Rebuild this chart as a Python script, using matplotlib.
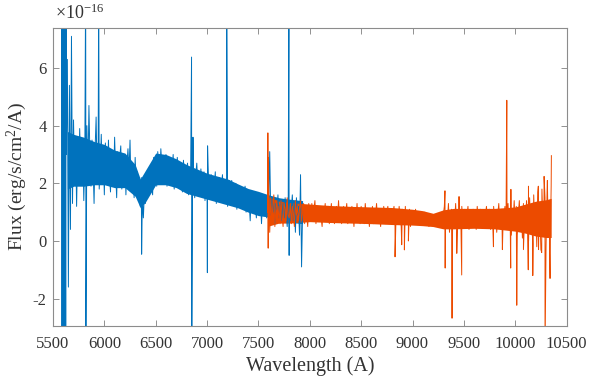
import numpy as np
import matplotlib
matplotlib.use("Agg")
import matplotlib.pyplot as plt

plt.rcParams['font.family'] = ['Liberation Serif', 'DejaVu Serif']
plt.rcParams['mathtext.fontset'] = 'custom'
plt.rcParams['mathtext.rm'] = 'Liberation Serif'
plt.rcParams['mathtext.it'] = 'Liberation Serif:italic'
plt.rcParams['axes.unicode_minus'] = False
plt.rcParams['path.simplify'] = False

# flux values are in units of 1e-16 erg/s/cm^2/A
# blue arm: sampled every 10 A from 5640 A
blue_start = 5640
blue_step = 10
blue_flux = [
    6.3, -1.6, 5.4, 0.4, 7.1, 1.3, 4.2, 2.2, 3.6, 1.2,
    3.3, 2.2, 3.9, 2.5, 2.1, 3.4, 1.4, 3.0, 2.4, 4.0,
    2.3, 4.7, 2.9, 1.9, 3.5, 2.6, 1.3, 3.2, 4.3, 2.2,
    3.1, 1.8, 2.5, 3.7, 2.2, 3.0, 1.6, 3.4, 2.6, 2.1,
    3.5, 2.3, 1.7, 3.0, 2.8, 2.0, 3.6, 2.4, 1.5, 3.1,
    2.1, 2.9, 3.3, 1.8, 2.6, 2.2, 3.0, 1.6, 2.7, 3.2,
    2.4, 3.5, 1.9, 2.7, 2.2, 1.5, 2.9, 2.0, 2.4, 1.6,
    1.9, 1.2, 2.2, 1.5, 0.8, 1.7, 1.3, 2.0, 1.6, 2.3,
    1.8, 2.6, 2.1, 1.6, 2.9, 2.3, 2.7, 1.9, 3.1, 2.5,
    2.2, 3.2, 2.6, 2.0, 2.9, 2.4, 3.0, 1.9, 2.7, 2.3,
    2.8, 2.0, 2.5, 3.0, 1.8, 2.6, 2.2, 2.9, 2.4, 1.9,
    2.6, 2.1, 1.7, 2.8, 2.3, 1.9, 2.5, 2.7, 1.6, 2.2,
    2.4, 1.8, 2.6, 2.0, 1.5, 2.3, 2.7, 1.9, 2.2, 1.6,
    2.5, 1.7, 2.1, 2.4, 1.4, 2.2, 1.9, 2.6, 1.6, 2.1,
    2.3, 1.5, 2.0, 1.8, 2.4, 1.3, 2.1, 1.7, 2.2, 1.5,
    1.9, 2.3, 1.4, 2.0, 1.6, 2.2, 1.2, 1.9, 2.1, 1.5,
    2.1, 1.3, 1.8, 1.5, 2.0, 1.1, 1.7, 1.9, 1.4, 1.6,
    1.8, 1.2, 1.6, 1.9, 1.0, 1.5, 1.7, 1.3, 0.7, 1.6,
    1.5, 1.1, 1.7, 1.2, 0.8, 1.6, 1.4, 1.0, 1.5, 0.6,
    1.4, 1.0, 1.6, 1.2, 0.8, 1.5, 1.3, 3.1, 0.9, 1.5,
    1.0, 1.5, 0.6, 1.3, 1.1, 1.6, 0.8, 1.2, 1.4, 0.7,
    1.3, 0.8, 1.5, 1.0, 0.5, 1.2, 1.4, 0.7, 1.1, 1.6,
    0.7, 1.3, 0.3, 1.5, 0.9, 1.2, 0.2, 2.3, -0.9, 1.0,
]
# saturated blue edge and single-pixel features
blue_spike_wave = [5585, 5588, 5591, 5594, 5597, 5600, 5603, 5606, 5609, 5612,
                   5615, 5618, 5621, 5624, 5627, 5630,
                   5818, 5820, 5945, 6363, 6849, 6851, 6863, 7003, 7005,
                   7191, 7797, 7799]
blue_spike_flux = [9.0, -4.0, 9.0, -4.0, 9.0, -4.0, 9.0, -4.0, 9.0, -4.0,
                   9.0, -4.0, 9.0, -4.0, 9.0, 3.0,
                   9.0, -4.0, 9.0, -0.46, 6.38, -4.0, 3.6, -1.1, 3.3,
                   9.0, 9.0, -0.5]
# dense core of the blue noise band
blue_core_wave = [5640, 5700, 5800, 5900, 6000, 6100, 6200, 6300, 6350, 6400,
                  6500, 6600, 6700, 6800, 6900, 7000, 7100, 7200, 7300, 7400,
                  7500, 7600, 7700, 7800, 7930]
blue_core_lo = [1.8, 1.9, 1.9, 1.95, 1.95, 1.85, 1.85, 1.55, 1.15, 1.35,
                1.95, 1.95, 1.85, 1.65, 1.55, 1.45, 1.35, 1.25, 1.15, 1.0,
                0.88, 0.83, 0.75, 0.65, 0.6]
blue_core_hi = [3.8, 3.7, 3.6, 3.45, 3.35, 3.15, 3.05, 2.65, 2.15, 2.45,
                3.05, 3.0, 2.85, 2.65, 2.5, 2.35, 2.25, 2.15, 1.98, 1.82,
                1.72, 1.6, 1.5, 1.45, 1.4]

# red arm: sampled every 10 A from 7600 A
red_start = 7600
red_step = 10
red_flux = [
    1.9, 0.3, 1.5, 0.6, 1.2, 1.6, 0.5, 1.1, 1.4, 0.7,
    1.2, 0.6, 1.4, 0.9, 0.5, 1.3, 1.1, 0.7, 1.5, 0.9,
    0.8, 1.3, 0.6, 1.2, 1.0, 0.5, 1.4, 0.9, 1.2, 0.7,
    1.1, 1.4, 0.7, 1.0, 1.3, 0.6, 1.2, 0.9, 0.5, 1.3,
    1.0, 0.7, 1.3, 0.8, 1.1, 1.4, 0.6, 1.0, 1.2, 0.7,
    1.2, 0.8, 0.5, 1.1, 0.9, 1.3, 0.7, 1.0, 1.2, 0.6,
    0.9, 1.3, 0.7, 1.1, 0.6, 1.0, 1.2, 0.8, 1.4, 0.7,
    1.1, 0.6, 0.9, 1.2, 0.7, 1.0, 1.3, 0.6, 0.9, 1.1,
    0.7, 1.2, 0.9, 0.5, 1.1, 0.8, 1.3, 0.7, 1.0, 0.6,
    1.2, 0.8, 1.0, 0.6, 1.3, 0.9, 0.7, 1.1, 0.5, 1.0,
    0.8, 1.2, 0.6, 1.0, 0.9, 1.3, 0.7, 1.1, 0.8, 0.5,
    1.1, 0.7, 1.2, 0.9, 0.6, 1.0, 1.2, 0.7, 0.9, 1.1,
    0.6, 1.0, 1.2, 0.5, 0.9, 1.1, 0.7, 1.2, 0.8, 0.5,
    1.1, 0.7, 0.9, 1.2, 0.6, 1.0, 0.8, 1.1, 0.5, 0.9,
    1.0, 0.7, 0.9, 1.1, 0.6, 0.8, 1.0, 0.7, 0.9, 0.6,
    0.9, 0.7, 1.0, 0.6, 0.8, 0.9, 0.5, 0.8, 0.7, 0.9,
    0.6, 0.8, 0.5, 0.7, 0.9, 0.6, 0.7, 0.5, 0.8, 0.6,
    0.9, 1.2, 0.4, 1.0, 0.7, 1.3, 0.3, 0.9, 1.1, 0.5,
    1.0, 0.6, 1.3, 0.4, 0.8, 1.1, 0.5, 0.9, 1.2, 0.6,
    0.8, 1.1, 0.5, 0.9, 1.2, 0.4, 0.8, 1.0, 0.6, 1.1,
    0.7, 1.0, 0.4, 1.2, 0.8, 0.6, 1.1, 0.5, 0.9, 1.0,
    0.5, 0.9, 1.2, 0.6, 0.8, 1.1, 0.4, 1.0, 0.7, 1.2,
    0.6, 1.0, 0.3, 0.9, 1.3, 0.5, 0.8, 1.1, 0.4, 0.9,
    1.2, 0.4, 0.8, 1.3, 0.5, 1.0, 0.2, 1.1, 0.7, 1.4,
    0.5, 1.2, 0.2, 0.9, 1.4, 0.4, 1.0, 0.1, 1.3, 0.7,
    0.3, 1.4, 0.8, 0.0, 1.5, 0.6, 1.1, -0.1, 1.6, 0.5,
    1.2, -0.2, 1.7, 0.4, 1.0, -0.3, 1.8, 0.6, 0.2, 1.5,
    -0.2, 1.7, 0.5, 1.2, -0.4, 1.9,
]
red_spike_wave = [7590, 7592, 7595, 7598, 8830, 8895, 8921, 8960, 9316, 9318,
                  9385, 9431, 9453, 9479, 9788, 9875, 9918, 9956, 9958, 10015,
                  10080, 10127, 10129, 10171, 10225, 10227, 10258, 10281, 10290,
                  10313, 10339, 10352]
red_spike_flux = [1.0, 3.75, -0.25, 2.9, -0.55, -0.13, -0.31, 0.0, 1.74, -0.94,
                  -2.68, -0.43, 1.54, -1.18, -0.2, -0.3, 4.88, -0.94, 1.79, -2.23,
                  -0.3, -1.0, 1.9, -1.2, 1.9, -0.3, -0.4, 2.24, -4.0,
                  2.1, -1.3, 2.96]
red_core_wave = [7600, 7700, 7800, 8000, 8200, 8400, 8600, 8800, 9000, 9100,
                 9200, 9300, 9400, 9600, 9800, 10000, 10100, 10200, 10300, 10350]
red_core_lo = [0.52, 0.62, 0.62, 0.67, 0.64, 0.62, 0.6, 0.57, 0.55, 0.53,
               0.5, 0.42, 0.42, 0.44, 0.42, 0.34, 0.27, 0.17, 0.12, 0.12]
red_core_hi = [1.53, 1.38, 1.33, 1.28, 1.23, 1.2, 1.18, 1.16, 1.1, 1.05,
               0.96, 1.08, 1.13, 1.13, 1.13, 1.18, 1.28, 1.38, 1.43, 1.48]

x_ticks = [5500, 6000, 6500, 7000, 7500, 8000, 8500, 9000, 9500, 10000, 10500]
y_ticks = [-2, 0, 2, 4, 6]


def merge(start, step, flux, spike_wave, spike_flux):
    wave = start + step * np.arange(len(flux))
    w = np.concatenate([wave, spike_wave])
    f = np.concatenate([flux, spike_flux])
    order = np.argsort(w, kind='stable')
    return w[order], f[order]


bw, bf = merge(blue_start, blue_step, blue_flux, blue_spike_wave, blue_spike_flux)
rw, rf = merge(red_start, red_step, red_flux, red_spike_wave, red_spike_flux)

blue = '#0072BD'
red = '#EC4B00'
text_color = '#333333'
fig = plt.figure(figsize=(6, 3.76), dpi=100)
ax = fig.add_axes([0.0883, 0.133, 0.856, 0.7934])
ax.fill_between(blue_core_wave, blue_core_lo, blue_core_hi, color=blue, lw=0)
ax.plot(bw, bf, color=blue, lw=0.7)
ax.fill_between(red_core_wave, red_core_lo, red_core_hi, color=red, lw=0)
ax.plot(rw, rf, color=red, lw=0.7)

ax.set_xlim(5500, 10500)
ax.set_ylim(-2.95, 7.4)
ax.set_xticks(x_ticks)
ax.set_yticks(y_ticks)
ax.tick_params(direction='in', length=4, width=0.6, colors='#808080',
               labelcolor=text_color, labelsize=12, top=True, right=True)
ax.tick_params(axis='x', pad=7)
ax.tick_params(axis='y', pad=4.5)
for s in ax.spines.values():
    s.set_color('#8c8c8c')
    s.set_linewidth(0.8)

ax.set_xlabel('Wavelength (A)', fontsize=14.5, color=text_color, labelpad=3.5)
ax.set_ylabel('Flux (erg/s/cm$^2$/A)', fontsize=14, color=text_color, labelpad=3)
ax.text(0.004, 1.015, '×10$^{-16}$', transform=ax.transAxes, fontsize=13,
        color=text_color, ha='left', va='bottom')

fig.savefig('out.png', dpi=100)
